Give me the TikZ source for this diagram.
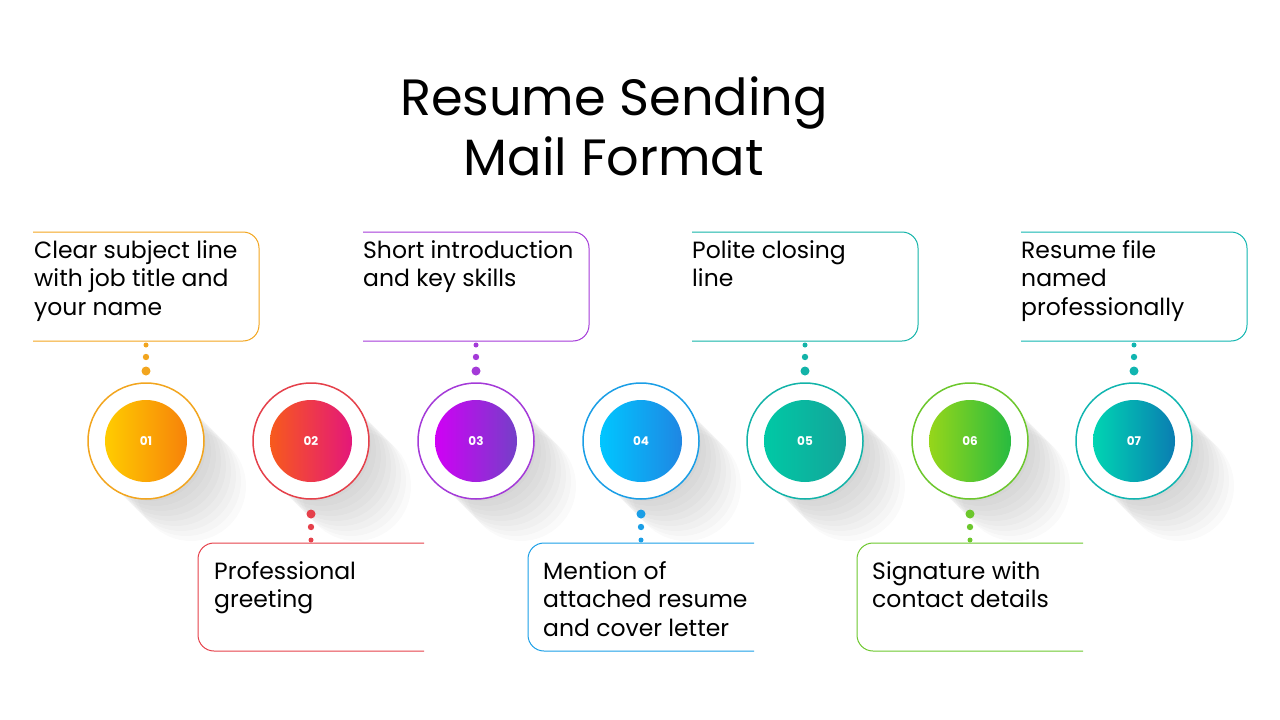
\documentclass[tikz,border=0pt]{standalone}
\usepackage{fontspec}
\setmainfont{Poppins}
\begin{document}
\begin{tikzpicture}[x=1pt,y=-1pt,
  boxtxt/.style={anchor=north west,align=left,font=\fontsize{23.5}{28.5}\selectfont,inner sep=0pt},
  numtxt/.style={text=white,font=\bfseries\fontsize{12}{12}\selectfont}]
\useasboundingbox (0,0) rectangle (1280,720);
\node[font=\fontsize{51}{60}\selectfont,align=center] (title) at (614,126) {Resume Sending\\Mail Format};
\definecolor{a1}{HTML}{FFCC00}\definecolor{b1}{HTML}{F7820A}
\definecolor{a2}{HTML}{F75A1C}\definecolor{b2}{HTML}{E4177A}
\definecolor{a3}{HTML}{D000F5}\definecolor{b3}{HTML}{7440C8}
\definecolor{a4}{HTML}{00C6FF}\definecolor{b4}{HTML}{1F86E3}
\definecolor{a5}{HTML}{00C9A5}\definecolor{b5}{HTML}{14A49A}
\definecolor{a6}{HTML}{96D61A}\definecolor{b6}{HTML}{28BB40}
\definecolor{a7}{HTML}{00D5B2}\definecolor{b7}{HTML}{0A7DB2}
\definecolor{r1}{HTML}{F2A51E}\definecolor{r2}{HTML}{E5404A}
\definecolor{r3}{HTML}{A43AD8}\definecolor{r4}{HTML}{1A9EE6}
\definecolor{r5}{HTML}{12B3A8}\definecolor{r6}{HTML}{6CC72C}
\definecolor{r7}{HTML}{10B5B0}
% shadows
\foreach \x in {146,311,476,641,805,970,1134}{
  \foreach \k in {1,...,9}{
    \fill[black,opacity=0.018] (\x+\k*5,441+\k*5) circle (55);
  }
}
% circles
\foreach \i/\x in {1/146,2/311,3/476,4/641,5/805,6/970,7/1134}{
  \fill[white] (\x,441) circle (58);
  \draw[r\i,line width=1.5pt] (\x,441) circle (58);
  \shade[left color=a\i,right color=b\i] (\x,441) circle (41);
  \node[numtxt] (c\i) at (\x,441) {0\i};
}
% top boxes
\foreach \i/\x in {1/33,3/363,5/692,7/1021}{
  \draw[r\i,line width=1pt,rounded corners=16] (\x,232) -- (\x+226,232) -- (\x+226,341) -- (\x,341);
  \fill[r\i] (\x+113,345) circle (2.5) (\x+113,357) circle (3.2) (\x+113,371) circle (4.5);
}
% bottom boxes
\foreach \i/\x in {2/198,4/528,6/857}{
  \draw[r\i,line width=1pt,rounded corners=16] (\x+226,543) -- (\x,543) -- (\x,651) -- (\x+226,651);
  \fill[r\i] (\x+113,514) circle (4.5) (\x+113,527) circle (3.2) (\x+113,540) circle (2.5);
}
\node[boxtxt] (t1) at (34,240) {Clear subject line\\with job title and\\your name};
\node[boxtxt] (t3) at (363,240) {Short introduction\\and key skills};
\node[boxtxt] (t5) at (692,240) {Polite closing\\line};
\node[boxtxt] (t7) at (1021,240) {Resume file\\named\\professionally};
\node[boxtxt] (t2) at (214,561) {Professional\\greeting};
\node[boxtxt] (t4) at (543,561) {Mention of\\attached resume\\and cover letter};
\node[boxtxt] (t6) at (872,561) {Signature with\\contact details};
\end{tikzpicture}
\end{document}
